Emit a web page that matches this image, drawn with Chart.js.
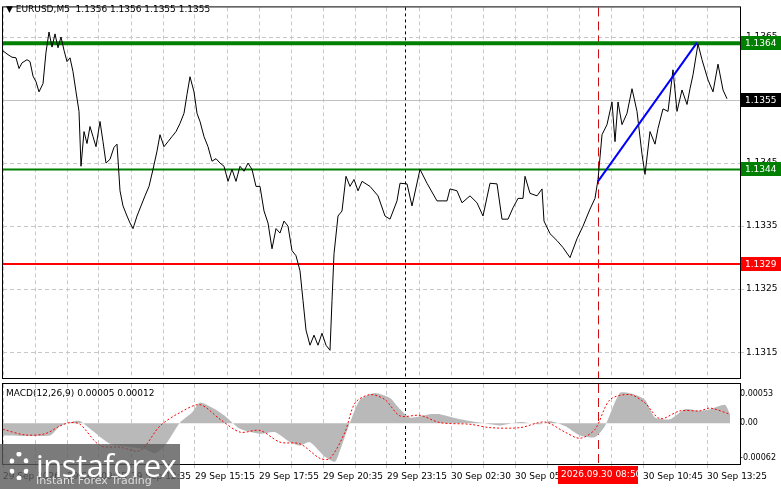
<!DOCTYPE html>
<html>
<head>
<meta charset="utf-8">
<script src="https://cdn.jsdelivr.net/npm/chart.js@4/dist/chart.umd.min.js"></script>
<style>
  body { margin: 0; background: #fff; font-family: "DejaVu Sans", sans-serif; }
  #wrap { position: relative; width: 781px; height: 489px; overflow: hidden; }
  #priceBox { position: absolute; left: 0; top: 0; width: 781px; height: 386px; }
  #macdBox { position: absolute; left: 0; top: 375px; width: 781px; height: 114px; }
  #logo { position: absolute; left: 0; top: 444px; width: 180px; height: 45px; background: rgba(90,90,90,0.8); color: #fff; }
  #logo .big { position: absolute; left: 36px; top: 0px; font: 31px "Open Sans", sans-serif; letter-spacing: -0.5px; }
  #logo .small { position: absolute; left: 36px; top: 30px; font: 11px "DejaVu Sans", sans-serif; color: #ddd; }
  #logo .icon { position: absolute; left: 9px; top: 8px; width: 20px; height: 28px; border: 5px dotted #fff; border-radius: 50%; box-sizing: border-box; }
</style>
</head>
<body>
<div id="wrap">
  <div id="priceBox"><canvas id="priceChart"></canvas></div>
  <div id="macdBox"><canvas id="macdChart"></canvas></div>
  <div id="logo"><div class="icon"></div><div class="big">instaforex</div><div class="small">Instant Forex Trading</div></div>
</div>
<script>
// bar index (5-minute bars) and close prices
const priceBars = [0,2.5,4.5,6.5,8,9.5,12,13.5,15,16.5,18,20,21.5,23,24.5,26,27.5,29,30.5,32,33.5,35,36.5,38,39,40.5,42,43.5,45,46.5,48.5,50,51.5,53.5,55.5,57,58.5,60,62,63.5,65,67,69,71,73,75,77,78.5,80.5,82.5,84.5,86.5,88.5,90.5,92,93.5,95.5,97,98.5,100.5,102.5,104.5,106.5,108.5,110.5,112.5,114.5,116.5,118.5,120.5,122.5,124.5,126.5,128.5,130.5,132.5,134.5,136.5,138.5,140.5,142.5,144.5,146.5,148.5,150,151.5,153.5,155.5,157.5,159.5,161.5,163.5,164.5,165.5,167.5,169.5,171.5,173.5,175.5,177.5,179.5,181.5,183.5,187.5,191,
  193.5,197,198.5,202,204.5,208.5,212,217,222,223.5,227,229.5,233.5,237,240,243.5,247,249.5,252.5,255,257.5,260,261,263.5,267,269.5,270.5,273.5,277,280,283.5,287,290,293.5,296,297.5,299.5,302,304.5,306,307.5,309.5,312,314.5,317,319.5,321,323.5,326,327.5,330,332.5,335,337,339.5,342,343.5,345,347.5,349.5,352.5,355,357.5,360,362];
const closes = [1.13628,1.13622,1.13618,1.13617,1.13600,1.13609,1.13614,1.13611,1.13588,1.13579,1.13563,1.13576,1.13626,1.13658,1.13634,1.13655,1.13633,1.13650,1.13629,1.13611,1.13617,1.13595,1.13563,1.13532,1.13445,1.13500,1.13481,1.13508,1.13492,1.13476,1.13516,1.13484,1.13450,1.13456,1.13475,1.13480,1.13406,1.13382,1.13366,1.13355,1.13346,1.13366,1.13382,1.13398,1.13413,1.13440,1.13469,1.13495,1.13476,1.13484,1.13492,1.13500,1.13513,1.13529,1.13559,1.13587,1.13563,1.13529,1.13516,1.13492,1.13476,1.13453,1.13457,1.13450,1.13445,1.13421,1.13440,1.13421,1.13445,1.13437,1.13450,1.13440,1.13413,1.13413,1.13374,1.13355,1.13314,1.13346,1.13339,1.13358,1.13350,1.13311,1.13303,1.13279,1.13232,1.13185,1.13161,1.13177,1.13161,1.13180,1.13161,1.13153,1.13232,1.13306,1.13366,1.13374,1.13429,1.13413,1.13424,1.13406,1.13421,1.13417,1.13413,1.13398,1.13366,
  1.13361,1.13390,1.13418,1.13417,1.13382,1.13440,1.13418,1.13390,1.13390,1.13409,1.13406,1.13387,1.13398,1.13387,1.13366,1.13418,1.13417,1.13361,1.13361,1.13379,1.13394,1.13394,1.13429,1.13402,1.13398,1.13409,1.13358,1.13338,1.13327,1.13316,1.13300,1.13330,1.13350,1.13377,1.13394,1.13424,1.13495,1.13511,1.13547,1.13484,1.13547,1.13511,1.13529,1.13568,1.13532,1.13464,1.13432,1.13500,1.13480,1.13505,1.13536,1.13532,1.13598,1.13532,1.13566,1.13543,1.13568,1.13590,1.13639,1.13614,1.13582,1.13563,1.13607,1.13566,1.13552];

const histBars = [0,23.5,28.5,36,38.5,43.5,53.5,63.5,71,76,81,88.5,94.5,98.5,106,111,118.5,128.5,136,143.5,148.5,153.5,161,166,168.5,173.5,178.5,186,193.5,198.5,203.5,213.5,218.5,228.5,238.5,248.5,258.5,268.5,273.5,281,288.5,296,301,308.5,316,321,326,333.5,341,348.5,353.5,361,363.5];
const histVals = [-2.2,-2.2,-0.5,0.4,0.4,-1,-3.7,-4.3,-4.6,-5.4,-4,0.1,1.9,3.7,2.5,1.3,-1,-1.9,-1.6,-3.4,-4,-3.4,-6,-6.9,-4.9,0.1,4.2,5.4,4.5,2.5,1,1.6,1.6,0.7,0.1,-0.4,0.2,-0.2,0.4,-0.5,-2.2,-2.5,-0.5,5.4,5.1,4.2,1,0.7,2.5,2.2,2.5,3.3,1.6];
const sigBars = [0,11,21,28.5,33.5,38.5,48.5,58.5,68.5,78.5,88.5,98.5,108.5,118.5,128.5,138.5,148.5,158.5,163.5,171,176,183.5,191,198.5,208.5,218.5,233.5,243.5,258.5,271,281,288.5,296,303.5,313.5,321,328.5,338.5,348.5,353.5,363.5];
const sigVals = [-1.1,-2.1,-1.9,-0.5,0.1,-0.2,-4,-4.3,-4.9,-0.5,1.9,3.3,0.7,-1.6,-1.3,-3.4,-3.7,-6.3,-6.3,-1.6,3.6,5.1,4.2,1.3,1.4,0.1,-0.2,-0.8,-0.8,0.2,-1.6,-2.7,-1.1,4.2,5.1,3.6,0.8,2.2,2.2,2.7,1.6];

const priceTicks = [1.1315,1.1325,1.1335,1.1345,1.1355,1.1365];
const timeLabels = ['29 Sep 2026','29 Sep 09:55','29 Sep 12:35','29 Sep 15:15','29 Sep 17:55','29 Sep 20:35','29 Sep 23:15','30 Sep 02:30','30 Sep 05:10','','30 Sep 10:45','30 Sep 13:25'];
const levels = [{v:1.1364,c:'#008000',w:4,t:'1.1364'},{v:1.1344,c:'#008000',w:2,t:'1.1344'},{v:1.1329,c:'#ff0000',w:2,t:'1.1329'}];
const trendFrom = [297.5, 1.13421], trendTo = [347, 1.13641];
const lastPrice = 1.1355;
const blackLineBar = 201, redLineBar = 297.5, redLabel = '2026.09.30 08:50';
const macdTicks = [-6.2, 0, 5.3];

const FONT = {family: 'DejaVu Sans', size: 9};
const gridCol = '#c8c8c8';

function fixY(w) { return s => { s.width = w; }; }

function commonX(showLabels) {
  return {
    type: 'linear', min: 0, max: 368.5,
    afterBuildTicks: s => { s.ticks = []; for (let k = 0; k <= 22; k++) s.ticks.push({value: k * 16}); },
    afterFit: s => { s.height = showLabels ? 25 : 0; },
    grid: {color: gridCol, tickLength: 4, drawTicks: showLabels},
    border: {display: false, dash: [4, 3]},
    ticks: {display: showLabels, color: '#000', font: FONT, align: 'start', maxRotation: 0, autoSkip: false, padding: 3,
      callback: (v, i) => (i % 2 === 0 ? timeLabels[i / 2] || '' : '')}
  };
}

const overlay = {
  id: 'overlay',
  beforeDatasetsDraw(chart) {
    const {ctx, chartArea: a, scales} = chart;
    ctx.save();
    ctx.lineWidth = 1;
    ctx.setLineDash([3, 3]); ctx.strokeStyle = '#000';
    let x = Math.round(scales.x.getPixelForValue(blackLineBar)) + 0.5;
    ctx.beginPath(); ctx.moveTo(x, a.top); ctx.lineTo(x, a.bottom); ctx.stroke();
    ctx.setLineDash([9, 5]); ctx.strokeStyle = '#d01010';
    x = Math.round(scales.x.getPixelForValue(redLineBar)) + 0.5;
    ctx.beginPath(); ctx.moveTo(x, a.top); ctx.lineTo(x, a.bottom); ctx.stroke();
    ctx.restore();
  },
  afterDraw(chart) {
    const {ctx, chartArea: a} = chart;
    ctx.save();
    ctx.strokeStyle = '#000'; ctx.lineWidth = 1;
    ctx.strokeRect(a.left - 0.5, a.top - 0.5, a.right - a.left + 1, a.bottom - a.top + 1);
    ctx.restore();
  }
};

const priceExtras = {
  id: 'priceExtras',
  beforeDatasetsDraw(chart) {
    const {ctx, chartArea: a, scales: {x, y}} = chart;
    ctx.save();
    let py = Math.round(y.getPixelForValue(lastPrice)) + 0.5;
    ctx.strokeStyle = '#c0c0c0'; ctx.lineWidth = 1;
    ctx.beginPath(); ctx.moveTo(a.left, py); ctx.lineTo(a.right, py); ctx.stroke();
    levels.forEach(l => {
      const yy = y.getPixelForValue(l.v);
      ctx.strokeStyle = l.c; ctx.lineWidth = l.w;
      ctx.beginPath(); ctx.moveTo(a.left, yy); ctx.lineTo(a.right, yy); ctx.stroke();
    });
    ctx.restore();
  },
  afterDraw(chart) {
    const {ctx, chartArea: a, scales: {x, y}} = chart;
    ctx.save();
    ctx.strokeStyle = '#0000ff'; ctx.lineWidth = 2;
    ctx.beginPath();
    ctx.moveTo(x.getPixelForValue(trendFrom[0]), y.getPixelForValue(trendFrom[1]));
    ctx.lineTo(x.getPixelForValue(trendTo[0]), y.getPixelForValue(trendTo[1]));
    ctx.stroke();
    ctx.font = '9px "DejaVu Sans"'; ctx.textBaseline = 'middle';
    const tag = (v, bg, fg, t) => {
      const yy = Math.round(y.getPixelForValue(v));
      ctx.fillStyle = bg; ctx.fillRect(a.right + 1, yy - 7, 40, 14);
      ctx.fillStyle = fg; ctx.fillText(t, a.right + 5, yy + 1);
    };
    levels.forEach(l => tag(l.v, l.c, '#fff', l.t));
    tag(lastPrice, '#000', '#fff', '1.1355');
    ctx.fillStyle = '#000';
    ctx.font = '9px "DejaVu Sans"'; ctx.textBaseline = 'top';
    ctx.fillText('\u25BC EURUSD,M5  1.1356 1.1356 1.1355 1.1355', 6, 5);
    ctx.restore();
  }
};

const macdExtras = {
  id: 'macdExtras',
  afterDraw(chart) {
    const {ctx, chartArea: a, scales: {x}} = chart;
    ctx.save();
    ctx.fillStyle = '#000'; ctx.font = '9px "DejaVu Sans"'; ctx.textBaseline = 'top';
    ctx.fillText('MACD(12,26,9) 0.00005 0.00012', 6, a.top + 5);
    const rx = x.getPixelForValue(redLineBar);
    ctx.fillStyle = '#ff0000'; ctx.fillRect(rx - 40, a.bottom + 2, 80, 18);
    ctx.fillStyle = '#fff'; ctx.fillText(redLabel, rx - 37, a.bottom + 6);
    ctx.restore();
  }
};

new Chart(document.getElementById('priceChart'), {
  type: 'line',
  data: {datasets: [{data: priceBars.map((b, i) => ({x: b, y: closes[i]})), borderColor: '#000', borderWidth: 1, pointRadius: 0, tension: 0}]},
  options: {
    responsive: true, maintainAspectRatio: false, animation: false,
    layout: {padding: {left: 3, top: 5, bottom: 8, right: 0}},
    plugins: {legend: {display: false}, tooltip: {enabled: false}},
    scales: {
      x: commonX(false),
      y: {position: 'right', min: 1.13109, max: 1.13697, afterFit: fixY(41),
        afterBuildTicks: s => { s.ticks = priceTicks.map(v => ({value: v})); },
        grid: {color: gridCol, tickLength: 4}, border: {display: false, dash: [4, 3]},
        ticks: {color: '#000', font: FONT, padding: 2, callback: v => v.toFixed(4)}}
    }
  },
  plugins: [overlay, priceExtras]
});

new Chart(document.getElementById('macdChart'), {
  type: 'line',
  data: {datasets: [
    {data: sigBars.map((b, i) => ({x: b, y: sigVals[i]})), borderColor: '#ff0000', borderWidth: 1, borderDash: [2, 2], pointRadius: 0, tension: 0.3},
    {data: histBars.map((b, i) => ({x: b, y: histVals[i]})), borderWidth: 0, backgroundColor: '#b9b9b9', fill: 'origin', pointRadius: 0, tension: 0.2}
  ]},
  options: {
    responsive: true, maintainAspectRatio: false, animation: false,
    layout: {padding: {left: 3, top: 9, right: 0, bottom: 0}},
    plugins: {legend: {display: false}, tooltip: {enabled: false}},
    scales: {
      x: commonX(true),
      y: {position: 'right', min: -7.3, max: 7.0, afterFit: fixY(41),
        afterBuildTicks: s => { s.ticks = macdTicks.map(v => ({value: v})); },
        grid: {display: false, drawTicks: false, tickLength: 0}, border: {display: false},
        ticks: {color: '#000', font: {family: 'DejaVu Sans', size: 8}, padding: 0,
          callback: v => v === 0 ? '0.00' : (v > 0 ? '0.00053' : '-0.00062')}}
    }
  },
  plugins: [overlay, macdExtras]
});
</script>
</body>
</html>
